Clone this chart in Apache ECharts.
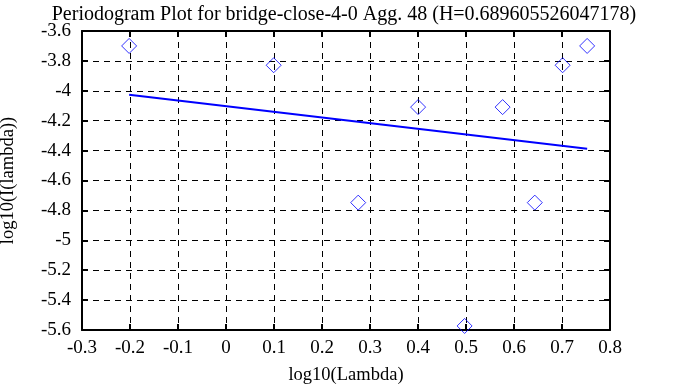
<!DOCTYPE html>
<html><head><meta charset="utf-8">
<script src="https://cdn.jsdelivr.net/npm/echarts@6/dist/echarts.min.js"></script>
<style>html,body{margin:0;padding:0;background:#fff}#c{width:688px;height:387px}</style>
</head><body><div id="c"></div>
<script>
var logLambda = [-0.2018, 0.0993, 0.2754, 0.4002, 0.4971, 0.5763, 0.6433, 0.7013, 0.7524];
var logI = [-3.700, -3.829, -4.748, -4.109, -5.573, -4.109, -4.748, -3.829, -3.700];
var fitX = [-0.2018, 0.7524];
var fitY = [-4.026, -4.387];
var xTicks = [-0.3, -0.2, -0.1, 0, 0.1, 0.2, 0.3, 0.4, 0.5, 0.6, 0.7, 0.8];
var yTicks = [-5.6, -5.4, -5.2, -5, -4.8, -4.6, -4.4, -4.2, -4, -3.8, -3.6];
var titleText = 'Periodogram Plot for bridge-close-4-0 Agg. 48 (H=0.689605526047178)';

var font = 'Liberation Serif';
var pts = logLambda.map(function(x, i){ return [x, logI[i]]; });
var line = fitX.map(function(x, i){ return [x, fitY[i]]; });
function fmt(v){ return String(Math.round(v*10)/10); }
var chart = echarts.init(document.getElementById('c'), null, {renderer:'canvas'});
var axisLine = {show:true, onZero:false, lineStyle:{color:'#000', width:2}};
var tick = {show:true, inside:true, length:6, lineStyle:{color:'#000', width:2}};
chart.setOption({
  animation:false,
  backgroundColor:'#fff',
  title:{text:titleText, left:'center', top:0, textStyle:{fontFamily:font, fontSize:20, fontWeight:'normal', color:'#000'}},
  grid:{left:82, right:78, top:31, bottom:57, containLabel:false, outerBoundsMode:'none'},
  xAxis:[{
    type:'value', min:xTicks[0], max:xTicks[xTicks.length-1], interval:0.1,
    name:'log10(Lambda)', nameLocation:'middle', nameGap:36,
    nameTextStyle:{fontFamily:font, fontSize:18.5, color:'#000'},
    axisLine:axisLine, axisTick:tick,
    axisLabel:{fontFamily:font, fontSize:19, color:'#000', margin:9, formatter:fmt},
    splitLine:{show:true, lineStyle:{color:'#000', type:[6,5], width:1}}
  },{
    type:'value', position:'top', min:xTicks[0], max:xTicks[xTicks.length-1], interval:0.1,
    axisLine:axisLine, axisTick:tick,
    axisLabel:{show:false}, splitLine:{show:false}
  }],
  yAxis:[{
    type:'value', min:yTicks[0], max:yTicks[yTicks.length-1], interval:0.2,
    name:'log10(I(lambda))', nameLocation:'middle', nameGap:64, nameRotate:90,
    nameTextStyle:{fontFamily:font, fontSize:18.5, color:'#000'},
    axisLine:axisLine, axisTick:tick,
    axisLabel:{fontFamily:font, fontSize:19, color:'#000', margin:11, formatter:fmt},
    splitLine:{show:true, lineStyle:{color:'#000', type:[6,5], width:1}}
  },{
    type:'value', position:'right', min:yTicks[0], max:yTicks[yTicks.length-1], interval:0.2,
    axisLine:axisLine, axisTick:tick,
    axisLabel:{show:false}, splitLine:{show:false}
  }],
  series:[{
    type:'scatter', data:pts, symbol:'diamond', symbolSize:[15,15],
    itemStyle:{color:'rgba(0,0,0,0)', borderColor:'#0000ff', borderWidth:1},
    clip:false, z:5
  },{
    type:'line', data:line, symbol:'none', lineStyle:{color:'#0000ff', width:2}, z:4
  }]
});
</script></body></html>
